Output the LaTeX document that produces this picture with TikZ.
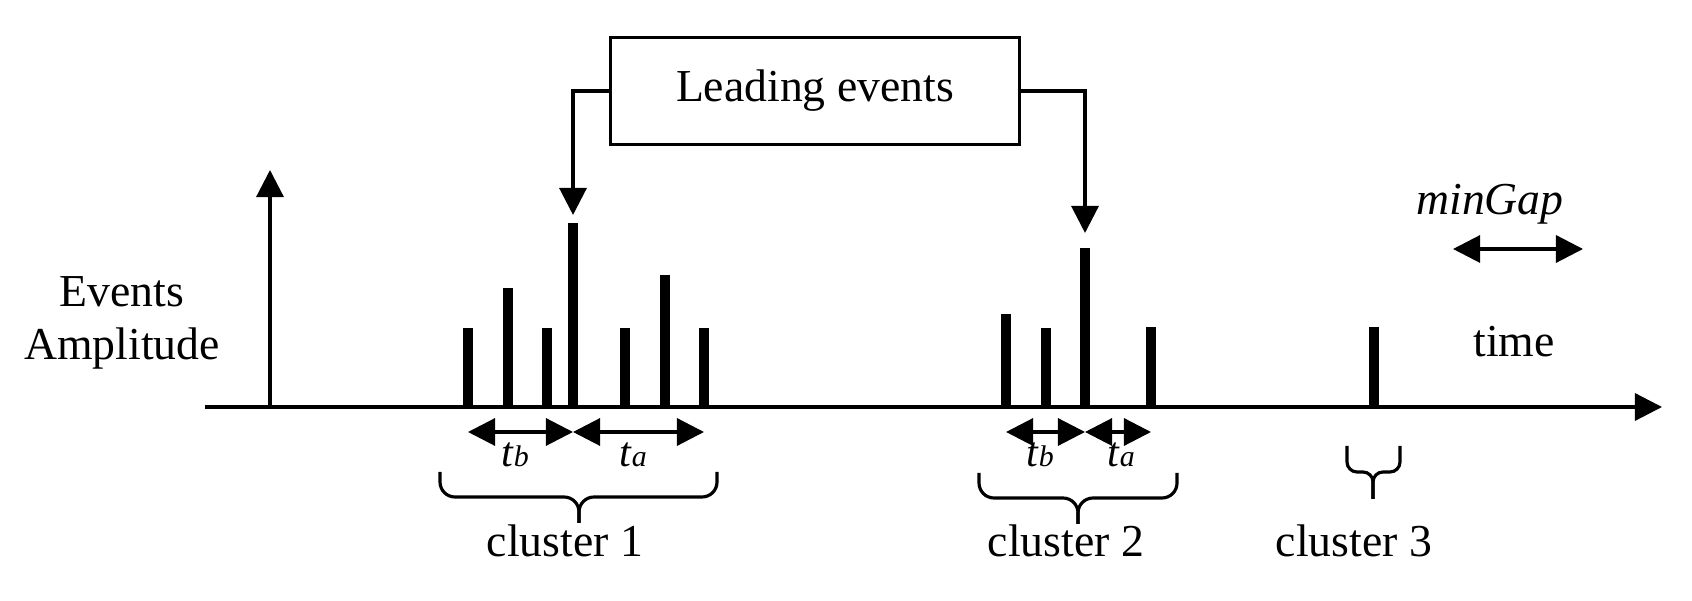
\documentclass[tikz,border=0pt]{standalone}
\usepackage{fontspec}
\setmainfont{Liberation Serif}
\usetikzlibrary{arrows.meta}

\newcommand{\tlab}[1]{\textit{t}{\fontsize{8.5}{9}\selectfont\textit{#1}}}

\begin{document}
\begin{tikzpicture}[
	x=0.01cm, y=-0.01cm,
	line width=0.9pt,
	font=\fontsize{13}{15.2}\selectfont,
	tip/.style={-{Triangle[length=7.7pt,width=7.7pt]}},
	span/.style={{Triangle[length=7.7pt,width=7.7pt]}-{Triangle[length=7.7pt,width=7.7pt]}},
	bar/.style={line width=2.85pt},
	sublab/.style={anchor=base,font=\fontsize{12}{14}\selectfont}
]
	\useasboundingbox (0,0) rectangle (1692,601);

	% axes
	\coordinate (origin) at (270,407);
	\coordinate (xstart) at (205,407);
	\coordinate (xend) at (1662,407);
	\coordinate (yend) at (270,170);
	\draw[tip] (xstart) -- (xend);
	\draw[tip] (origin) -- (yend);

	\node[anchor=base,align=center] (amp) at (122,360) {Events\\Amplitude};
	\node[anchor=base] (time) at (1514,357) {time};

	% events
	\foreach \x/\top [count=\i] in {468/328,508/288,547/328,573/223,625/328,665/275,704/328,
		1006/314,1046/328,1085/248,1151/327,1374/327}
	{
		\draw[bar] (\x,407) -- (\x,\top) coordinate (bar\i);
		\coordinate (foot\i) at (\x,432);
	}

	% leading events
	\node[draw,line width=0.85pt,minimum width=4.08cm,minimum height=1.06cm] (lead) at (815,91) {Leading events};
	\draw[tip] (lead.west) -| ([yshift=0.08cm]bar4);
	\draw[tip] (lead.east) -| ([yshift=0.15cm]bar10);

	% tb and ta
	\draw[span] (foot1) -- (foot4);
	\draw[span] (foot4) -- (foot7);
	\draw[span] (foot8) -- (foot10);
	\draw[span] (foot10) -- (foot11);
	\node[sublab] (tb1) at (515,467) {\tlab{b}};
	\node[sublab] (ta1) at (633,467) {\tlab{a}};
	\node[sublab] (tb2) at (1040,467) {\tlab{b}};
	\node[sublab] (ta2) at (1121,467) {\tlab{a}};

	% clusters
	\foreach \xa/\xt/\xb/\yt/\h/\r/\xl [count=\i] in {440/579/717/472/25/0.15/565,
		979/1078/1177/473/25/0.15/1066, 1347/1373/1400/446/26/0.1/1354}
	{
		\draw[rounded corners=\r cm] (\xa,\yt) -- (\xa,\yt+\h) -- (\xt,\yt+\h) -- (\xt,\yt+2*\h+1);
		\draw[rounded corners=\r cm] (\xb,\yt) -- (\xb,\yt+\h) -- (\xt,\yt+\h) -- (\xt,\yt+2*\h+1);
		\node[anchor=base] (cl\i) at (\xl,557) {cluster \i};
	}

	% min gap
	\coordinate (gapl) at (1453,249);
	\coordinate (gapr) at (1583,249);
	\draw[span] (gapl) -- (gapr);
	\node[anchor=base] (mingap) at (1490,215) {\textit{minGap}};
\end{tikzpicture}
\end{document}
